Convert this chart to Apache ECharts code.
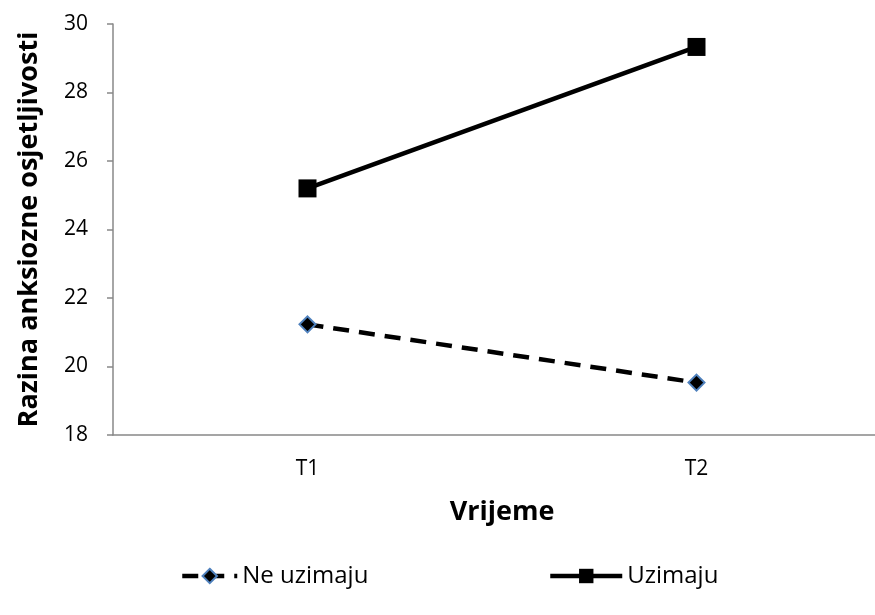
<!DOCTYPE html>
<html>
<head>
<meta charset="utf-8">
<script src="https://cdn.jsdelivr.net/npm/echarts@6/dist/echarts.min.js"></script>
<style>
  html, body { margin: 0; padding: 0; background: #fff; overflow: hidden; }
  /* plot area runs past the right edge in the original, so the canvas is a bit wider than the window */
  #chart { width: 891px; height: 615px; }
</style>
</head>
<body>
<div id="chart"></div>
<script>
var categories = ['T1', 'T2']
var neUzimaju = [21.23, 19.53]
var uzimaju = [25.2, 29.33]
var yTicks = { min: 18, max: 30, interval: 2 }

var chart = echarts.init(document.getElementById('chart'))
var font = '"Open Sans", sans-serif'
var legendText = { fontSize: 24, color: '#000', fontFamily: font }
chart.setOption({
  animation: false,
  textStyle: { fontFamily: font },
  grid: {
    left: 113,
    top: 24,
    right: 0,
    bottom: 180
  },
  legend: [
    {
      bottom: 22,
      left: 175,
      itemWidth: 55,
      itemHeight: 18,
      lineStyle: { width: 4.5 },
      textStyle: legendText,
      data: ['Ne uzimaju']
    },
    {
      bottom: 22,
      left: 543,
      itemWidth: 72,
      itemHeight: 18,
      itemGap: 3,
      lineStyle: { width: 4.5 },
      textStyle: legendText,
      data: ['Uzimaju']
    }
  ],
  xAxis: {
    type: 'category',
    data: categories,
    name: 'Vrijeme',
    nameLocation: 'middle',
    nameGap: 64,
    nameTextStyle: { fontSize: 27, fontWeight: 'bold', color: '#000' },
    axisLine: { lineStyle: { color: '#888', width: 1.5 } },
    axisTick: { show: false },
    axisLabel: { fontSize: 21, color: '#000', margin: 24 }
  },
  yAxis: {
    type: 'value',
    min: yTicks.min,
    max: yTicks.max,
    interval: yTicks.interval,
    name: 'Razina anksiozne osjetljivosti',
    nameLocation: 'middle',
    nameGap: 70,
    nameTextStyle: { fontSize: 27, fontWeight: 'bold', color: '#000' },
    splitLine: { show: false },
    axisLine: { show: true, lineStyle: { color: '#888', width: 1.5 } },
    axisTick: { show: true, length: 6, lineStyle: { color: '#888', width: 1.5 } },
    axisLabel: { fontSize: 21, color: '#000', margin: 25 }
  },
  series: [
    {
      name: 'Ne uzimaju',
      type: 'line',
      data: neUzimaju,
      symbol: 'diamond',
      symbolSize: 16,
      itemStyle: { color: '#000', borderColor: '#4F81BD', borderWidth: 2 },
      lineStyle: { color: '#000', width: 4.5, type: [16, 10] }
    },
    {
      name: 'Uzimaju',
      type: 'line',
      data: uzimaju,
      symbol: 'rect',
      symbolSize: 18,
      itemStyle: { color: '#000' },
      lineStyle: { color: '#000', width: 4.5 }
    }
  ]
})
</script>
</body>
</html>
